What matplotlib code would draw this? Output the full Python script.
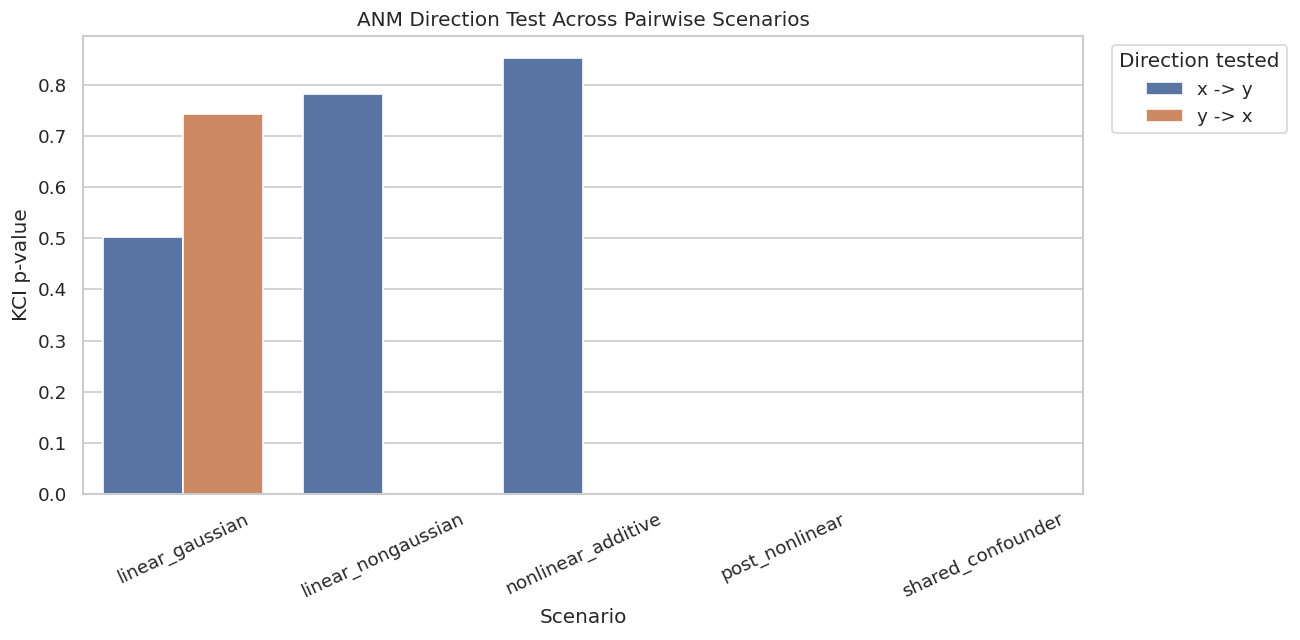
import matplotlib
matplotlib.use("Agg")
import matplotlib.pyplot as plt
import seaborn as sns
import pandas as pd

scenarios = ["linear_gaussian", "linear_nongaussian", "nonlinear_additive",
             "post_nonlinear", "shared_confounder"]
directions = ["x -> y", "y -> x"]
p_xy = [0.503, 0.782, 0.853, 0.0, 0.0]
p_yx = [0.743, 0.0, 0.0, 0.0, 0.0]

df = pd.DataFrame({
    "scenario": scenarios * 2,
    "direction": [directions[0]] * len(scenarios) + [directions[1]] * len(scenarios),
    "p_value": p_xy + p_yx,
})

sns.set_theme(style="whitegrid")
fig, ax = plt.subplots(figsize=(1300 / 120, 640 / 120), dpi=120)
sns.barplot(data=df, x="scenario", y="p_value", hue="direction", ax=ax)
ax.set_title("ANM Direction Test Across Pairwise Scenarios")
ax.set_xlabel("Scenario")
ax.set_ylabel("KCI p-value")
plt.setp(ax.get_xticklabels(), rotation=25)
ax.legend(title="Direction tested", bbox_to_anchor=(1.02, 1), loc="upper left")
fig.subplots_adjust(left=0.064, right=0.833, top=0.944, bottom=0.228)
fig.savefig("out.png")
